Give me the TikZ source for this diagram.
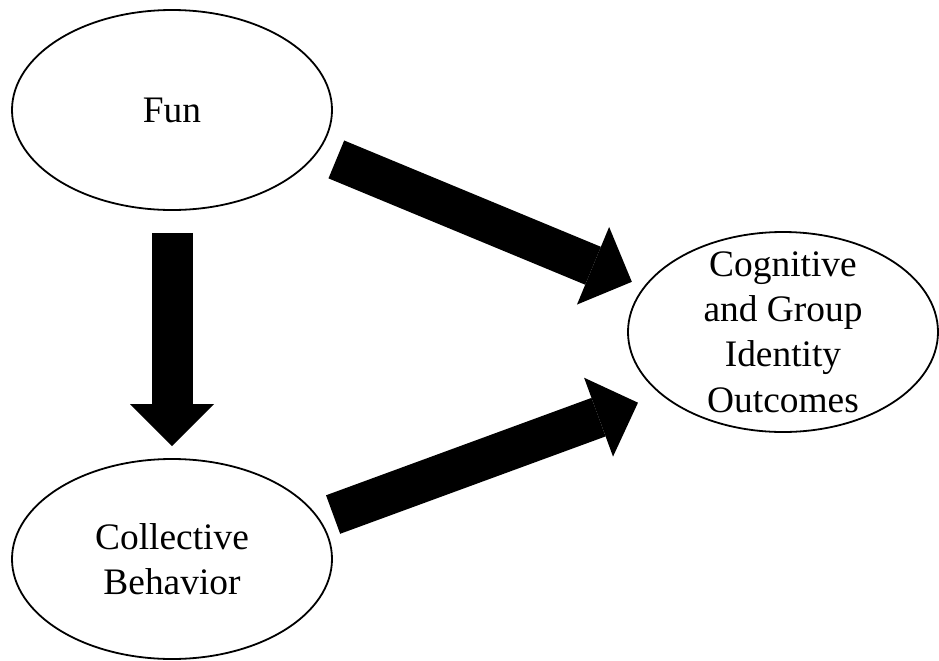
\documentclass[tikz,border=0pt]{standalone}
\usepackage{fontspec}
\setmainfont{Liberation Serif}
\usetikzlibrary{arrows.meta, shapes.geometric, positioning}

\begin{document}
\begin{tikzpicture}[
        x=0.5pt, y=-0.5pt,
        oval/.style={ellipse, draw, line width=0.9pt, inner sep=0pt, minimum height=100pt},
        txt/.style={align=center, inner sep=0pt, font=\fontsize{18.7}{22.7}\selectfont},
        bigarrow/.style={line width=20.5pt, -{Triangle[length=21pt, width=42pt, line width=0pt]}}
    ]
        \useasboundingbox (0,0) rectangle (939,660);

        % ellipses
        \node [oval, minimum width=160pt] (fun) at (172,110) {};
        \node [oval, minimum width=160pt] (collective) at (172,559) {};
        \node [oval, minimum width=155pt] (outcomes) at (783,332) {};

        % their texts
        \node [txt] (funtext) at (fun) {Fun};
        \node [txt] (collectivetext) at (collective) {Collective\\Behavior};
        \node [txt] (outcomestext) at (outcomes) {Cognitive\\and Group\\Identity\\Outcomes};

        % block arrows
        \draw[bigarrow, shorten <=11pt, shorten >=6pt] (fun.south) -- (collective.north);
        \draw[bigarrow, shorten <=9.75pt, shorten >=6.4pt] (fun.-16.9) -- (outcomes.162);
        \draw[bigarrow, shorten <=7pt, shorten >=12pt] (collective.15.4) -- (outcomes.207.4);
\end{tikzpicture}
\end{document}
